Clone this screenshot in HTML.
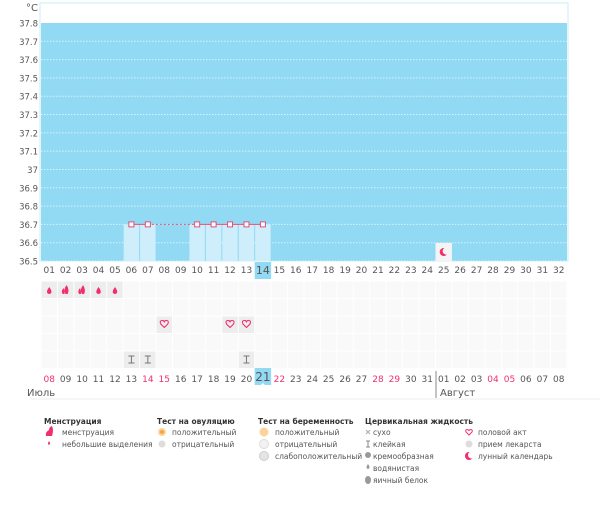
<!DOCTYPE html>
<html><head><meta charset="utf-8">
<style>
html,body{margin:0;padding:0;background:#fff;}
body{width:600px;height:508px;overflow:hidden;font-family:"Liberation Sans","DejaVu Sans",sans-serif;}
svg text{font-family:"DejaVu Sans","Liberation Sans",sans-serif;}
</style></head>
<body>
<svg id="s" width="600" height="508" xmlns="http://www.w3.org/2000/svg"></svg>
<script>
var s=document.getElementById('s'),h='';
var L=41,R=567,W=(R-L)/32,T=23,B=261,st=(B-T)/13;
function cx(i){return L+(i-0.5)*W;}
h+='<rect x="'+(L-1)+'" y="3" width="'+(R-L+2)+'" height="'+(B-3)+'" fill="#fff" stroke="#c8ecf8"/>';
h+='<rect x="'+L+'" y="'+T+'" width="'+(R-L)+'" height="'+(B-T)+'" fill="#92d9f3"/>';
h+='<text x="26" y="11" font-size="10" fill="#555">°C</text>';
for(var k=0;k<=13;k++){var y=T+k*st;var v=(37.8-k*0.1).toFixed(1).replace('.0','');
 h+='<text x="38" y="'+(y+3.5)+'" font-size="8.5" fill="#555" text-anchor="end">'+v+'</text>';
 if(k>0)h+='<line x1="'+L+'" x2="'+R+'" y1="'+y+'" y2="'+y+'" stroke="#d8f2fc" stroke-dasharray="1.5,1.5"/>';}
var bars=[6,7,10,11,12,13,14];var y7=T+11*st;
bars.forEach(function(i){h+='<rect x="'+(L+(i-1)*W+0.5)+'" y="'+y7+'" width="'+(W-1)+'" height="'+(B-y7)+'" fill="#cdeefa"/>';});
h+='<line x1="'+cx(6)+'" x2="'+cx(7)+'" y1="'+y7+'" y2="'+y7+'" stroke="#e0507a"/>';
h+='<line x1="'+cx(7)+'" x2="'+cx(10)+'" y1="'+y7+'" y2="'+y7+'" stroke="#e0507a" stroke-dasharray="2,2"/>';
h+='<line x1="'+cx(10)+'" x2="'+cx(14)+'" y1="'+y7+'" y2="'+y7+'" stroke="#e0507a"/>';
bars.forEach(function(i){h+='<rect x="'+(cx(i)-2.5)+'" y="'+(y7-2.5)+'" width="5" height="5" fill="#fff" stroke="#e0507a"/>';});
h+='<rect x="'+(L+24*W)+'" y="243" width="'+W+'" height="18" fill="#f4f4f4"/>';
h+='<circle cx="'+cx(25)+'" cy="252" r="4" fill="#f0306a"/><circle cx="'+(cx(25)+2.5)+'" cy="251" r="3.6" fill="#f4f4f4"/>';
for(var i=1;i<=32;i++){var t=(i<10?'0':'')+i;
 if(i==14)h+='<rect x="'+(L+13*W)+'" y="262" width="'+W+'" height="17" fill="#92d9f3"/>';
 h+='<text x="'+cx(i)+'" y="'+(i==14?274:273)+'" font-size="'+(i==14?11:9)+'" fill="#555" text-anchor="middle">'+t+'</text>';}
var gy=281,rh=17.5;
for(var r=0;r<5;r++)for(var i=1;i<=32;i++){
 h+='<rect x="'+(L+(i-1)*W+0.5)+'" y="'+(gy+r*rh+0.5)+'" width="'+(W-1)+'" height="'+(rh-1)+'" fill="#f9f9f9"/>';}
function cell(i,r){h+='<rect x="'+(L+(i-1)*W+0.5)+'" y="'+(gy+r*rh+0.5)+'" width="'+(W-1)+'" height="'+(rh-1)+'" fill="#ededed"/>';}
[1,2,3,4,5].forEach(function(i){cell(i,0);var c=cx(i),y=gy+9;
 if(i==2||i==3){h+='<path d="M'+(c-3)+' '+(y+4)+' q-2 -3 1 -6 q1 3 1 6z M'+(c)+' '+(y+4)+' q-3 -4 1 -9 q3 5 1 9z" fill="#f0306a"/>';}
 else h+='<path d="M'+c+' '+(y-3)+' q-3 4 -2 6 q2 2 4 0 q1 -2 -2 -6z" fill="#f0306a"/>';});
[8,12,13].forEach(function(i){cell(i,2);var c=cx(i),y=gy+2*rh+8;
 h+='<path d="M'+c+' '+(y+3.5)+' L'+(c-3.5)+' '+(y)+' q-1.5 -3 1 -3.5 q1.8 -0.3 2.5 1.3 q0.7 -1.6 2.5 -1.3 q2.5 0.5 1 3.5z" fill="none" stroke="#f0306a" stroke-width="1.1"/>';});
[6,7,13].forEach(function(i){cell(i,4);var c=cx(i),y=gy+4*rh+9;
 h+='<path d="M'+(c-3)+' '+(y-4)+'h6M'+c+' '+(y-4)+'v7M'+(c-3)+' '+(y+3)+'h6" stroke="#777" stroke-width="1"/>';});
var bd=['08','09','10','11','12','13','14','15','16','17','18','19','20','21','22','23','24','25','26','27','28','29','30','31','01','02','03','04','05','06','07','08'];
var red=[0,6,7,14,20,21,27,28];
for(var i=0;i<32;i++){var c=cx(i+1);
 if(i==13)h+='<rect x="'+(L+13*W)+'" y="368" width="'+W+'" height="17" fill="#92d9f3"/><path d="M'+(c-2)+' 385 l2 -2 l2 2z" fill="#fff"/>';
 h+='<text x="'+c+'" y="'+(i==13?381:382)+'" font-size="'+(i==13?12:9)+'" fill="'+(red.indexOf(i)>=0?'#f0306a':'#555')+'" text-anchor="middle">'+bd[i]+'</text>';}
h+='<line x1="436" x2="436" y1="371" y2="398" stroke="#888"/>';
h+='<text x="27" y="396" font-size="10" fill="#555">Июль</text><text x="440" y="396" font-size="10" fill="#555">Август</text>';
h+='<line x1="30" x2="600" y1="399" y2="399" stroke="#eee"/>';
function tx(x,y,t,b){h+='<text x="'+x+'" y="'+y+'" font-size="7.5" fill="'+(b?'#333':'#555')+'"'+(b?' font-weight="bold"':'')+'>'+t+'</text>';}
tx(44,424,'Менструация',1);tx(157,424,'Тест на овуляцию',1);tx(258,424,'Тест на беременность',1);tx(365,424,'Цервикальная жидкость',1);
h+='<path d="M46 436 q-1 -4 3 -6 q0 -3 3 -4 q2 4 0 10z" fill="#f0306a"/><path d="M49 441 q-2 3 0 4 q2 -1 0 -4z" fill="#f0306a"/>';
tx(62,435,'менструация');tx(62,447,'небольшие выделения');
h+='<circle cx="162" cy="432" r="4" fill="#fbd49a"/><circle cx="162" cy="432" r="2" fill="#f5a640"/><circle cx="162" cy="444" r="3.5" fill="#ddd"/>';
tx(172,435,'положительный');tx(172,447,'отрицательный');
h+='<circle cx="264" cy="432" r="4.5" fill="#fbd49a"/><circle cx="264" cy="444" r="4.5" fill="#f2f2f2" stroke="#ddd"/><circle cx="264" cy="456" r="4.5" fill="#e4e4e4" stroke="#ccc"/>';
tx(275,435,'положительный');tx(275,447,'отрицательный');tx(275,459,'слабоположительный');
h+='<path d="M366 430l4 4M370 430l-4 4" stroke="#aaa"/><path d="M366 441h4M368 441v6M366 447h4" stroke="#888"/><circle cx="368" cy="455" r="3" fill="#999"/><path d="M368 464 q-3 4 0 5 q3 -1 0 -5z" fill="#999"/><ellipse cx="368" cy="480" rx="3" ry="4" fill="#999"/>';
tx(373,435,'сухо');tx(373,447,'клейкая');tx(373,459,'кремообразная');tx(373,471,'водянистая');tx(373,483,'яичный белок');
h+='<path d="M469 435 l-3 -3 q-1 -2 1 -2.5 q1 0 2 1 q1 -1 2 -1 q2 .5 1 2.5z" fill="none" stroke="#f0306a"/><circle cx="469" cy="444" r="3.5" fill="#ddd"/><circle cx="469" cy="456" r="4" fill="#f0306a"/><circle cx="471.5" cy="455" r="3.5" fill="#fff"/>';
tx(478,435,'половой акт');tx(478,447,'прием лекарста');tx(478,459,'лунный календарь');
s.innerHTML=h;
</script>
</body></html>
